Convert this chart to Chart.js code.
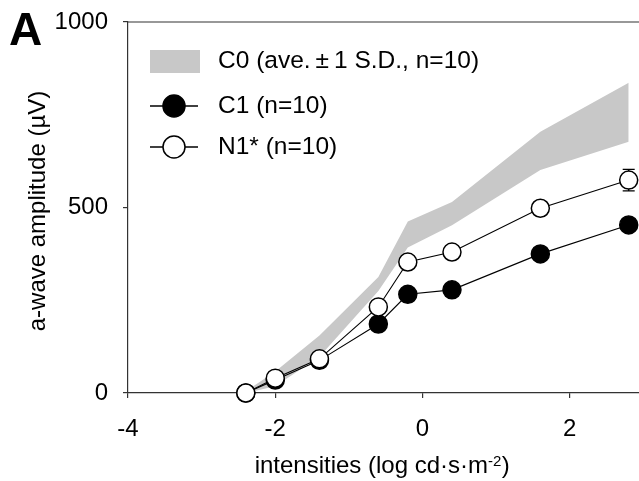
<!DOCTYPE html>
<html>
<head>
<meta charset="utf-8">
<script src="https://cdn.jsdelivr.net/npm/chart.js@4.4.0/dist/chart.umd.min.js"></script>
<style>
  html, body { margin: 0; padding: 0; background: #fff; }
  #wrap { width: 639px; height: 481px; }
</style>
</head>
<body>
<div id="wrap"><canvas id="chart" width="639" height="481"></canvas></div>
<script>
// data
var intensities = [-2.4, -2, -1.4, -0.6, -0.2, 0.4, 1.6, 2.8];
var c0Upper = [5, 58, 155, 313, 462, 515, 704, 836];
var c0Lower = [0, 18, 98, 275, 392, 452, 601, 677];
var c1Mean = [0, 35, 88, 186, 266, 278, 375, 453];
var n1Mean = [0, 40, 92, 232, 353, 380, 498, 574];
var n1Err = [0, 0, 0, 0, 0, 0, 0, 29];
var xTicks = [-4, -2, 0, 2];
var yTicks = [0, 500, 1000];
var legendLabels = ['C0 (ave.\u00b11 S.D., n=10)', 'C1 (n=10)', 'N1* (n=10)'];
var xTitle = ['intensities (log cd\u00b7s\u00b7m', '-2', ')'];
var yTitle = 'a-wave amplitude (\u00b5V)';
var panelLabel = 'A';

var FONT = "'Liberation Sans', Arial, sans-serif";
var BAND = '#c8c8c8';

function pts(ys) {
  return intensities.map(function (x, i) { return { x: x, y: ys[i] }; });
}

// legend text; the ± gets a little extra room like the original
function legendText(ctx, s, x, y) {
  var parts = s.split('\u00b1');
  if (parts.length < 2) { ctx.fillText(s, x, y); return; }
  ctx.fillText(parts[0], x, y);
  x += ctx.measureText(parts[0]).width + 5;
  ctx.fillText('\u00b1', x, y);
  x += ctx.measureText('\u00b1').width + 5;
  ctx.fillText(parts[1], x, y);
}

// error bars, frame line, titles, legend
var decor = {
  id: 'decor',
  beforeDatasetsDraw: function (chart) {
    var ctx = chart.ctx, xs = chart.scales.x, ys = chart.scales.y;
    ctx.save();
    ctx.strokeStyle = '#000';
    ctx.lineWidth = 1.3;
    intensities.forEach(function (x, i) {
      if (!n1Err[i]) return;
      var px = xs.getPixelForValue(x);
      var top = ys.getPixelForValue(n1Mean[i] + n1Err[i]);
      var bot = ys.getPixelForValue(n1Mean[i] - n1Err[i]);
      ctx.beginPath();
      ctx.moveTo(px, top); ctx.lineTo(px, bot);
      ctx.moveTo(px - 6, top); ctx.lineTo(px + 6, top);
      ctx.moveTo(px - 6, bot); ctx.lineTo(px + 6, bot);
      ctx.stroke();
    });
    ctx.restore();
  },
  afterDraw: function (chart) {
    var ctx = chart.ctx, a = chart.chartArea;
    ctx.save();
    // top frame line
    ctx.strokeStyle = '#333';
    ctx.lineWidth = 1.2;
    ctx.beginPath();
    ctx.moveTo(a.left, a.top); ctx.lineTo(a.right, a.top);
    ctx.stroke();

    ctx.fillStyle = '#000';
    // panel letter
    ctx.font = 'bold 46px ' + FONT;
    ctx.textBaseline = 'alphabetic';
    ctx.textAlign = 'left';
    ctx.fillText(panelLabel, 9, 45);

    // y title
    ctx.font = '24px ' + FONT;
    ctx.save();
    ctx.translate(38, 211);
    ctx.rotate(-Math.PI / 2);
    ctx.textAlign = 'center';
    ctx.textBaseline = 'middle';
    ctx.fillText(yTitle, 0, 0);
    ctx.restore();

    // x title with superscript
    ctx.font = '24px ' + FONT;
    var w1 = ctx.measureText(xTitle[0]).width;
    var w3 = ctx.measureText(xTitle[2]).width;
    ctx.font = '15px ' + FONT;
    var w2 = ctx.measureText(xTitle[1]).width;
    var sx = 382 - (w1 + w2 + w3) / 2;
    ctx.textAlign = 'left';
    ctx.textBaseline = 'alphabetic';
    ctx.font = '24px ' + FONT;
    ctx.fillText(xTitle[0], sx, 473);
    ctx.font = '15px ' + FONT;
    ctx.fillText(xTitle[1], sx + w1, 466);
    ctx.font = '24px ' + FONT;
    ctx.fillText(xTitle[2], sx + w1 + w2 + 0.5, 473);

    // legend
    ctx.fillStyle = BAND;
    ctx.fillRect(150, 50, 50, 23);
    ctx.strokeStyle = '#000';
    ctx.lineWidth = 1.5;
    [[106, '#000'], [147, '#fff']].forEach(function (r) {
      ctx.beginPath();
      ctx.moveTo(150, r[0]); ctx.lineTo(198, r[0]);
      ctx.stroke();
      ctx.beginPath();
      ctx.arc(174, r[0], 11, 0, Math.PI * 2);
      ctx.fillStyle = r[1];
      ctx.fill();
      ctx.stroke();
    });
    ctx.fillStyle = '#000';
    ctx.font = '24.5px ' + FONT;
    ctx.textBaseline = 'middle';
    legendText(ctx, legendLabels[0], 218, 61);
    legendText(ctx, legendLabels[1], 218, 106);
    legendText(ctx, legendLabels[2], 218, 147);
    ctx.restore();
  }
};

Chart.defaults.font.family = FONT;

new Chart(document.getElementById('chart').getContext('2d'), {
  type: 'line',
  data: {
    datasets: [
      {
        label: 'N1*', data: pts(n1Mean), order: 0, clip: false,
        borderColor: '#000', borderWidth: 1.1, tension: 0,
        pointRadius: 9, pointBackgroundColor: '#fff',
        pointBorderColor: '#000', pointBorderWidth: 1.5, fill: false
      },
      {
        label: 'C1', data: pts(c1Mean), order: 1, clip: false,
        borderColor: '#000', borderWidth: 1.1, tension: 0,
        pointRadius: 9, pointBackgroundColor: '#000',
        pointBorderColor: '#000', pointBorderWidth: 1.5, fill: false
      },
      {
        label: 'C0 +1SD', data: pts(c0Upper), order: 2,
        borderColor: 'rgba(0,0,0,0)', borderWidth: 0, pointRadius: 0,
        backgroundColor: BAND, fill: 3
      },
      {
        label: 'C0 -1SD', data: pts(c0Lower), order: 3,
        borderColor: 'rgba(0,0,0,0)', borderWidth: 0, pointRadius: 0,
        fill: false
      }
    ]
  },
  options: {
    responsive: false,
    animation: false,
    layout: { autoPadding: false, padding: { top: 22, left: 0, right: 0, bottom: 0 } },
    plugins: {
      legend: { display: false },
      tooltip: { enabled: false },
      filler: { drawTime: 'beforeDatasetsDraw' }
    },
    scales: {
      x: {
        type: 'linear', min: -4, max: 2.94,
        afterBuildTicks: function (ax) { ax.ticks = xTicks.map(function (v) { return { value: v }; }); },
        afterFit: function (ax) { ax.height = 88; ax.paddingLeft = 0; ax.paddingRight = 0; },
        ticks: { color: '#000', font: { size: 24 }, padding: 17, maxRotation: 0,
          callback: function (v) { return String(v); } },
        grid: { drawOnChartArea: false, tickLength: 5, color: '#333', lineWidth: 1.2 },
        border: { color: '#333', width: 1.2 }
      },
      y: {
        type: 'linear', min: 0, max: 1000,
        afterBuildTicks: function (ax) { ax.ticks = yTicks.map(function (v) { return { value: v }; }); },
        afterFit: function (ax) { ax.width = 128; ax.paddingTop = 0; ax.paddingBottom = 0; },
        ticks: { color: '#000', font: { size: 24 }, padding: 15,
          callback: function (v) { return String(v); } },
        grid: { drawOnChartArea: false, tickLength: 5, color: '#333', lineWidth: 1.2 },
        border: { color: '#333', width: 1.2 }
      }
    }
  },
  plugins: [decor]
});
</script>
</body>
</html>
